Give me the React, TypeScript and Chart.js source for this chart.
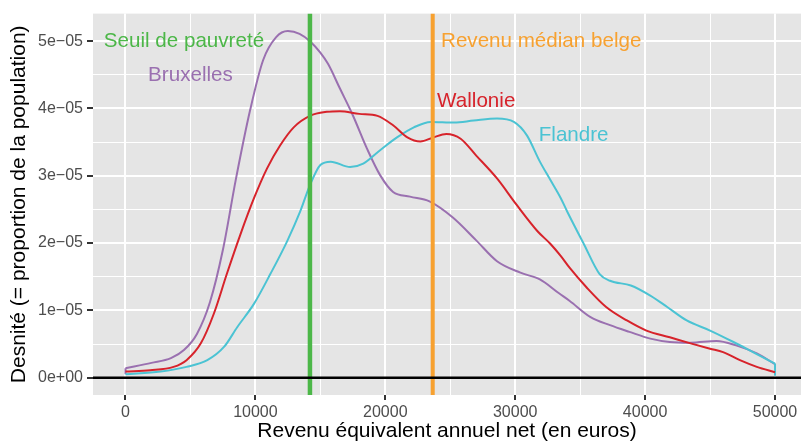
import React, { useEffect, useRef } from "react";
import { Chart, registerables } from "chart.js";

Chart.register(...registerables);

// Density values are expressed in units of 1e-05
const DENSITY_UNIT = 1e-5;

const bruxellesIncome = [0, 2000, 3500, 4500, 5500, 6500, 7500, 8500, 9600, 10600, 11600, 12500, 13400, 14200, 15000, 15600, 16500, 17500, 18600, 19600, 20600, 21900, 23400, 25200, 27000, 28600, 30400, 31900, 33400, 34200, 35800, 37300, 38800, 40400, 41900, 43500, 45500, 47000, 48600, 50000];
const bruxellesDensity = [0.14, 0.22, 0.29, 0.41, 0.65, 1.12, 1.9, 2.95, 3.98, 4.72, 5.06, 5.15, 5.11, 5.0, 4.83, 4.66, 4.3, 3.9, 3.4, 3.01, 2.76, 2.69, 2.62, 2.38, 2.04, 1.73, 1.56, 1.46, 1.25, 1.14, 0.9, 0.78, 0.68, 0.58, 0.53, 0.52, 0.545, 0.48, 0.36, 0.2];

const wallonieIncome = [0, 1900, 3700, 4700, 5800, 6800, 7800, 8850, 9900, 10900, 11900, 12950, 14200, 15500, 16500, 18000, 19400, 20600, 21700, 22700, 23700, 24700, 25800, 27000, 28600, 30100, 31700, 32700, 33500, 34200, 35500, 37000, 38600, 40100, 41900, 43500, 45000, 46000, 47300, 48600, 50000];
const wallonieDensity = [0.09, 0.11, 0.16, 0.26, 0.51, 0.95, 1.54, 2.13, 2.67, 3.11, 3.45, 3.72, 3.89, 3.95, 3.96, 3.92, 3.89, 3.75, 3.57, 3.51, 3.57, 3.62, 3.55, 3.3, 2.96, 2.57, 2.18, 1.99, 1.81, 1.63, 1.34, 1.05, 0.85, 0.7, 0.6, 0.51, 0.43, 0.38, 0.26, 0.16, 0.08];

const flandreIncome = [0, 2700, 4700, 6300, 7600, 8600, 9900, 11150, 12450, 13450, 14200, 15000, 15800, 17300, 18300, 19600, 20900, 22200, 23500, 25300, 26800, 28600, 29900, 30900, 31900, 32700, 33500, 34000, 35300, 36500, 37300, 38900, 40400, 41700, 43200, 45000, 46800, 48300, 50000];
const flandreDensity = [0.05, 0.09, 0.16, 0.26, 0.46, 0.75, 1.1, 1.54, 2.03, 2.47, 2.86, 3.16, 3.21, 3.13, 3.18, 3.38, 3.57, 3.72, 3.8, 3.79, 3.82, 3.85, 3.8, 3.6, 3.21, 2.94, 2.67, 2.47, 1.98, 1.54, 1.44, 1.37, 1.22, 1.05, 0.85, 0.7, 0.53, 0.38, 0.21];

// Vertical closing segments of the density outlines (income, low density, high density)
const bruxellesStartTail = [0, 0.05, 0.14];
const flandreEndTail = [50000, 0.03, 0.21];

const POVERTY_THRESHOLD = 14200;
const MEDIAN_INCOME = 23650;

const X_TICKS = [0, 5000, 10000, 15000, 20000, 25000, 30000, 35000, 40000, 45000, 50000];
const Y_TICKS = [0, 0.5, 1, 1.5, 2, 2.5, 3, 3.5, 4, 4.5, 5];
const X_MIN = -2500;
const X_MAX = 52000;
const Y_MIN = -0.2575;
const Y_MAX = 5.41;

const annotationTexts = ["Seuil de pauvreté", "Bruxelles", "Revenu médian belge", "Wallonie", "Flandre"];
const annotationX = [4500, 5000, 32000, 27000, 34500];
const annotationY = [5.0, 4.5, 5.0, 4.1, 3.6];

const COLOR_BRUXELLES = "#9A70B0";
const COLOR_WALLONIE = "#D7232B";
const COLOR_FLANDRE = "#4BC3D3";
const COLOR_SEUIL = "#4CB748";
const COLOR_MEDIAN = "#F7A130";
const annotationColors = [COLOR_SEUIL, COLOR_BRUXELLES, COLOR_MEDIAN, COLOR_WALLONIE, COLOR_FLANDRE];

const FONT_FAMILY = "'Liberation Sans', Arial, sans-serif";

function toPoints(xs: number[], ys: number[]) {
  return xs.map((x, i) => ({ x, y: ys[i] * DENSITY_UNIT }));
}
function tailPoints(t: number[]) {
  return [{ x: t[0], y: t[1] * DENSITY_UNIT }, { x: t[0], y: t[2] * DENSITY_UNIT }];
}

function isMajorX(v: number) {
  return Math.round(v) % 10000 === 0;
}
function isMajorY(v: number) {
  const m = Math.round((v / DENSITY_UNIT) * 10) / 10;
  return Math.abs(m - Math.round(m)) < 1e-6;
}

const panelPlugin = {
  id: "ggpanel",
  beforeDraw(chart: any) {
    const { ctx, chartArea } = chart;
    ctx.save();
    ctx.fillStyle = "#E5E5E5";
    ctx.fillRect(chartArea.left, chartArea.top, chartArea.right - chartArea.left, chartArea.bottom - chartArea.top);
    ctx.restore();
  },
  afterDatasetsDraw(chart: any) {
    const { ctx } = chart;
    const xs = chart.scales.x;
    const ys = chart.scales.y;
    ctx.save();
    ctx.font = `20.6px ${FONT_FAMILY}`;
    ctx.textAlign = "center";
    ctx.textBaseline = "middle";
    annotationTexts.forEach((t, i) => {
      ctx.fillStyle = annotationColors[i];
      ctx.fillText(t, xs.getPixelForValue(annotationX[i]), ys.getPixelForValue(annotationY[i] * DENSITY_UNIT));
    });
    ctx.restore();
  },
};

export default function App() {
  const canvasRef = useRef<HTMLCanvasElement | null>(null);

  useEffect(() => {
    if (!canvasRef.current) return;
    const lineBase = { fill: false, pointRadius: 0, cubicInterpolationMode: "monotone", borderWidth: 2 };
    const straight = { fill: false, pointRadius: 0, tension: 0 };
    const chart = new Chart(canvasRef.current, {
      type: "line",
      data: {
        datasets: [
          { label: "zero", data: [{ x: X_MIN, y: 0 }, { x: X_MAX, y: 0 }], borderColor: "#000000", borderWidth: 2.5, ...straight },
          {
            label: "Seuil de pauvreté",
            data: [{ x: POVERTY_THRESHOLD, y: Y_MIN * DENSITY_UNIT }, { x: POVERTY_THRESHOLD, y: Y_MAX * DENSITY_UNIT }],
            borderColor: COLOR_SEUIL,
            borderWidth: 4.5,
            ...straight,
          },
          {
            label: "Revenu médian belge",
            data: [{ x: MEDIAN_INCOME, y: Y_MIN * DENSITY_UNIT }, { x: MEDIAN_INCOME, y: Y_MAX * DENSITY_UNIT }],
            borderColor: COLOR_MEDIAN,
            borderWidth: 4,
            ...straight,
          },
          { label: "Wallonie", data: toPoints(wallonieIncome, wallonieDensity), borderColor: COLOR_WALLONIE, ...lineBase },
          { label: "Flandre", data: toPoints(flandreIncome, flandreDensity), borderColor: COLOR_FLANDRE, ...lineBase },
          { label: "Flandre tail", data: tailPoints(flandreEndTail), borderColor: COLOR_FLANDRE, borderWidth: 2, ...straight },
          { label: "Bruxelles", data: toPoints(bruxellesIncome, bruxellesDensity), borderColor: COLOR_BRUXELLES, ...lineBase },
          { label: "Bruxelles tail", data: tailPoints(bruxellesStartTail), borderColor: COLOR_BRUXELLES, borderWidth: 2, ...straight },
        ],
      },
      options: {
        animation: false,
        responsive: false,
        maintainAspectRatio: false,
        layout: { padding: { top: 11, right: 0, bottom: 0, left: 0 } },
        plugins: { legend: { display: false }, tooltip: { enabled: false } },
        scales: {
          x: {
            type: "linear",
            min: X_MIN,
            max: X_MAX,
            afterBuildTicks: (scale: any) => {
              scale.ticks = X_TICKS.map((v) => ({ value: v }));
            },
            afterFit: (scale: any) => {
              scale.height = 46;
            },
            border: { display: false },
            grid: {
              color: "#FFFFFF",
              lineWidth: (c: any) => (c.tick && isMajorX(c.tick.value) ? 2 : 1),
              tickColor: (c: any) => (c.tick && isMajorX(c.tick.value) ? "#333333" : "rgba(0,0,0,0)"),
              tickWidth: 2,
              tickLength: 5,
            },
            ticks: {
              autoSkip: false,
              maxRotation: 0,
              padding: 3,
              color: "#4D4D4D",
              font: { family: FONT_FAMILY, size: 16 },
              callback: (v: any) => (isMajorX(Number(v)) ? String(v) : ""),
            },
            title: {
              display: true,
              text: "Revenu équivalent annuel net (en euros)",
              color: "#000000",
              font: { family: FONT_FAMILY, size: 21, lineHeight: 0.9 },
              padding: { top: 0, bottom: 0 },
            },
          },
          y: {
            type: "linear",
            min: Y_MIN * DENSITY_UNIT,
            max: Y_MAX * DENSITY_UNIT,
            afterBuildTicks: (scale: any) => {
              scale.ticks = Y_TICKS.map((v) => ({ value: v * DENSITY_UNIT }));
            },
            afterFit: (scale: any) => {
              scale.width = 93;
            },
            border: { display: false },
            grid: {
              color: "#FFFFFF",
              lineWidth: (c: any) => (c.tick && isMajorY(c.tick.value) ? 2 : 1),
              tickColor: (c: any) => (c.tick && isMajorY(c.tick.value) ? "#333333" : "rgba(0,0,0,0)"),
              tickWidth: 2,
              tickLength: 6,
            },
            ticks: {
              autoSkip: false,
              padding: 4,
              color: "#4D4D4D",
              font: { family: FONT_FAMILY, size: 16 },
              callback: (v: any) => {
                const val = Number(v);
                if (!isMajorY(val)) return "";
                const m = Math.round(val / DENSITY_UNIT);
                return m === 0 ? "0e+00" : `${m}e\u221205`;
              },
            },
            title: {
              display: true,
              text: "Desnité (= proportion de la population)",
              color: "#000000",
              font: { family: FONT_FAMILY, size: 21, lineHeight: 1.2 },
              padding: { top: 7, bottom: 0 },
            },
          },
        },
      },
      plugins: [panelPlugin],
    } as any);
    return () => chart.destroy();
  }, []);

  return (
    <div style={{ position: "absolute", left: 0, top: 0, width: 801, height: 441, background: "#FFFFFF" }}>
      <canvas ref={canvasRef} width={801} height={441} style={{ display: "block", width: 801, height: 441 }} />
    </div>
  );
}
